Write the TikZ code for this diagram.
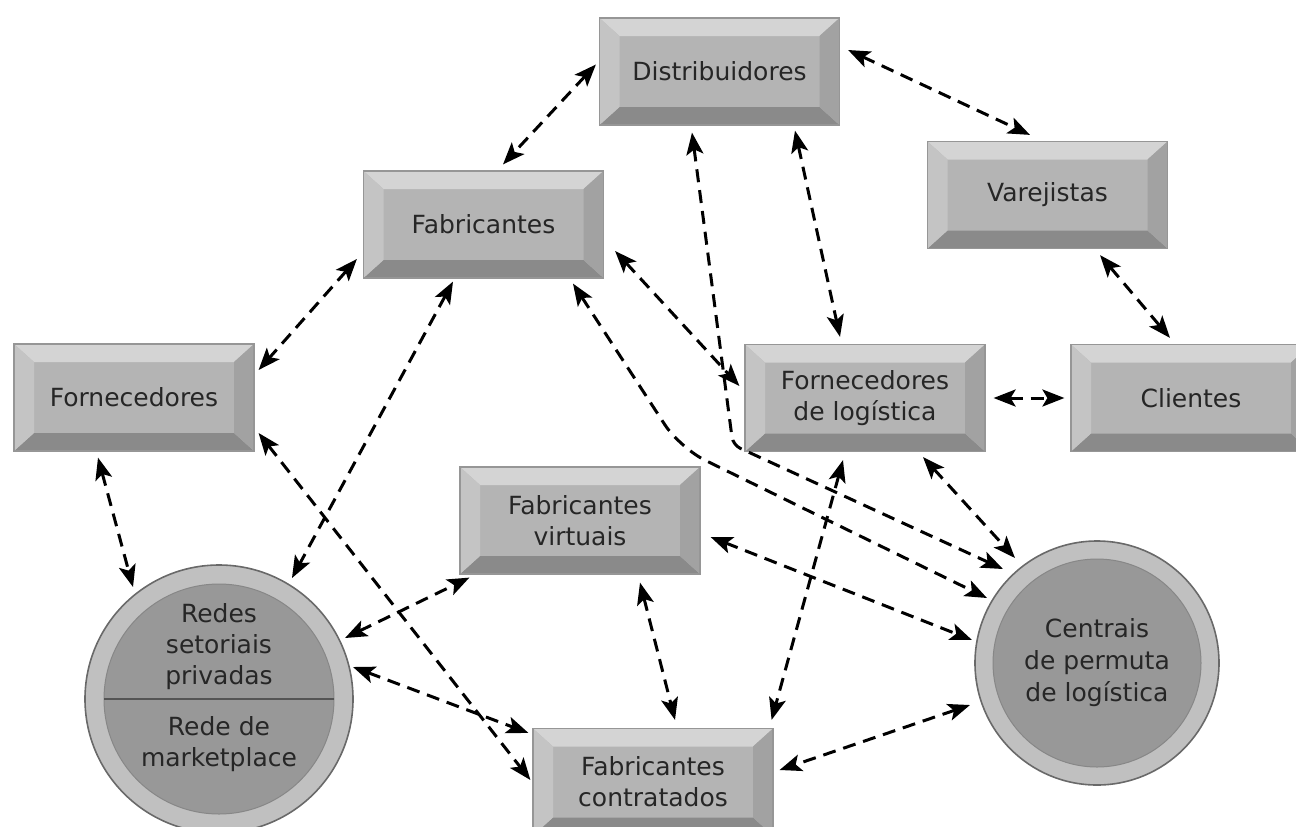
\documentclass[tikz,border=0pt]{standalone}
\usepackage{fontspec}
\setmainfont{DejaVu Sans}
\usetikzlibrary{arrows.meta}

\definecolor{facegray}{RGB}{180,180,180}
\definecolor{bvtop}{RGB}{212,212,212}
\definecolor{bvleft}{RGB}{196,196,196}
\definecolor{bvright}{RGB}{162,162,162}
\definecolor{bvbottom}{RGB}{138,138,138}
\definecolor{edgegray}{RGB}{150,150,150}
\definecolor{txtgray}{RGB}{38,38,38}
\definecolor{ringgray}{RGB}{192,192,192}
\definecolor{ringedge}{RGB}{105,105,105}
\definecolor{diskgray}{RGB}{152,152,152}
\definecolor{diskedge}{RGB}{135,135,135}

\newcommand\ppbb{path picture bounding box}

\tikzset{
  bevelbox/.style={rectangle, minimum width=120pt, minimum height=53.5pt,
    inner sep=0pt, align=center, fill=facegray, draw=edgegray, line width=0.6pt,
    font=\fontsize{12.5}{15.5}\selectfont, text=txtgray,
    path picture={
      \fill[bvtop] (\ppbb.north west) -- (\ppbb.north east)
        -- ([shift={(-10pt,-9pt)}]\ppbb.north east)
        -- ([shift={(10pt,-9pt)}]\ppbb.north west) -- cycle;
      \fill[bvbottom] (\ppbb.south west) -- (\ppbb.south east)
        -- ([shift={(-10pt,9pt)}]\ppbb.south east)
        -- ([shift={(10pt,9pt)}]\ppbb.south west) -- cycle;
      \fill[bvleft] (\ppbb.north west) -- (\ppbb.south west)
        -- ([shift={(10pt,9pt)}]\ppbb.south west)
        -- ([shift={(10pt,-9pt)}]\ppbb.north west) -- cycle;
      \fill[bvright] (\ppbb.north east) -- (\ppbb.south east)
        -- ([shift={(-10pt,9pt)}]\ppbb.south east)
        -- ([shift={(-10pt,-9pt)}]\ppbb.north east) -- cycle;
    }},
  ringnode/.style 2 args={circle, minimum size=#1, inner sep=0pt,
    fill=ringgray, draw=ringedge, line width=0.8pt, align=center,
    font=\fontsize{12.5}{16}\selectfont, text=txtgray,
    path picture={
      \fill[diskgray, draw=diskedge, line width=0.5pt]
        (\ppbb.center) circle[radius=#2];
    }},
  ringtext/.style={inner sep=0pt, align=center,
    font=\fontsize{12.5}{15.5}\selectfont, text=txtgray},
  divider/.style={draw=ringedge!80!black, line width=1.4pt},
  conn/.style={line width=1.5pt, dash pattern=on 6.5pt off 4pt,
    {Stealth[length=11pt,width=8.5pt,inset=2.5pt]}-{Stealth[length=11pt,width=8.5pt,inset=2.5pt]}}
}

\begin{document}
\begin{tikzpicture}[x=0.5pt,y=-0.5pt]
\useasboundingbox (0,0) rectangle (1296,826);
\clip (0,0) rectangle (1296,826);

% boxes
\node[bevelbox] (dist) at (719.5,71.5) {Distribuidores};
\node[bevelbox] (fab)  at (483.5,224.5) {Fabricantes};
\node[bevelbox] (var)  at (1047.5,195) {Varejistas};
\node[bevelbox] (forn) at (134,397.5) {Fornecedores};
\node[bevelbox] (fdl)  at (865,398) {Fornecedores\\de logística};
\node[bevelbox] (cli)  at (1191,398) {Clientes};
\node[bevelbox] (fv)   at (580,520.5) {Fabricantes\\virtuais};
\node[bevelbox] (fc)   at (653,782) {Fabricantes\\contratados};

% round exchanges
\node[ringnode={134pt}{57.5pt}] (redes) at (219,699) {};
\draw[divider] ([xshift=-57.5pt]redes.center) -- ([xshift=57.5pt]redes.center);
\node[ringtext] (redesup) at ([yshift=26pt]redes.center) {Redes\\setoriais\\privadas};
\node[ringtext] (redeslow) at ([yshift=-22.5pt]redes.center) {Rede de\\marketplace};

\node[ringnode={122pt}{52pt}] (cpl) at (1097,663) {Centrais\\de permuta\\de logística};

% bend points of the two routed links
\coordinate (bendA) at (733,445);
\coordinate (bendB) at (680,448);

% links
\draw[conn] ([shift={(-3,-7)}]dist.west) -- ([shift={(19.5,-6)}]fab.north);
\draw[conn] ([shift={(8,-21.5)}]dist.east) -- ([shift={(-17.5,-6)}]var.north);
\draw[conn] ([shift={(75.5,5)}]dist.south) -- ([shift={(-25,-7)}]fdl.north);
\draw[conn, rounded corners=4pt] ([shift={(-27.5,7)}]dist.south) -- (bendA) -- ([shift={(-94,-94)}]cpl.center);
\draw[conn] ([shift={(11,26.5)}]fab.east) -- ([shift={(-5,-12)}]fdl.west);
\draw[conn, rounded corners=14pt] ([shift={(89.5,5)}]fab.south) -- (bendB) -- ([shift={(-110,-65)}]cpl.center);
\draw[conn] ([shift={(-6,34.5)}]fab.west) -- ([shift={(4,-27.5)}]forn.east);
\draw[conn] ([shift={(-30.5,3)}]fab.south) -- ([shift={(73,-121)}]redes.center);
\draw[conn] ([shift={(4,35.5)}]forn.east) -- ([shift={(-2,-2)}]fc.west);
\draw[conn] ([shift={(-36,6)}]forn.south) -- ([shift={(-86,-112)}]redes.center);
\draw[conn] ([shift={(126,-61)}]redes.center) -- ([shift={(10,3)}]fv.south west);
\draw[conn] ([shift={(134,-32)}]redes.center) -- ([shift={(-4,5)}]fc.north west);
\draw[conn] ([shift={(60,8)}]fv.south) -- ([shift={(22,-8)}]fc.north);
\draw[conn] ([shift={(-22,8)}]fdl.south) -- ([shift={(-2,-8)}]fc.north east);
\draw[conn] ([shift={(10,16.5)}]fv.east) -- ([shift={(-125,-23)}]cpl.center);
\draw[conn] ([shift={(-127,42)}]cpl.center) -- ([shift={(6,-12)}]fc.east);
\draw[conn] ([shift={(8,0)}]fdl.east) -- ([shift={(-6,0)}]cli.west);
\draw[conn] ([shift={(52.5,6)}]var.south) -- ([shift={(-21,-6)}]cli.north);
\draw[conn] ([shift={(58,5)}]fdl.south) -- ([shift={(-82,-105)}]cpl.center);
\end{tikzpicture}
\end{document}
